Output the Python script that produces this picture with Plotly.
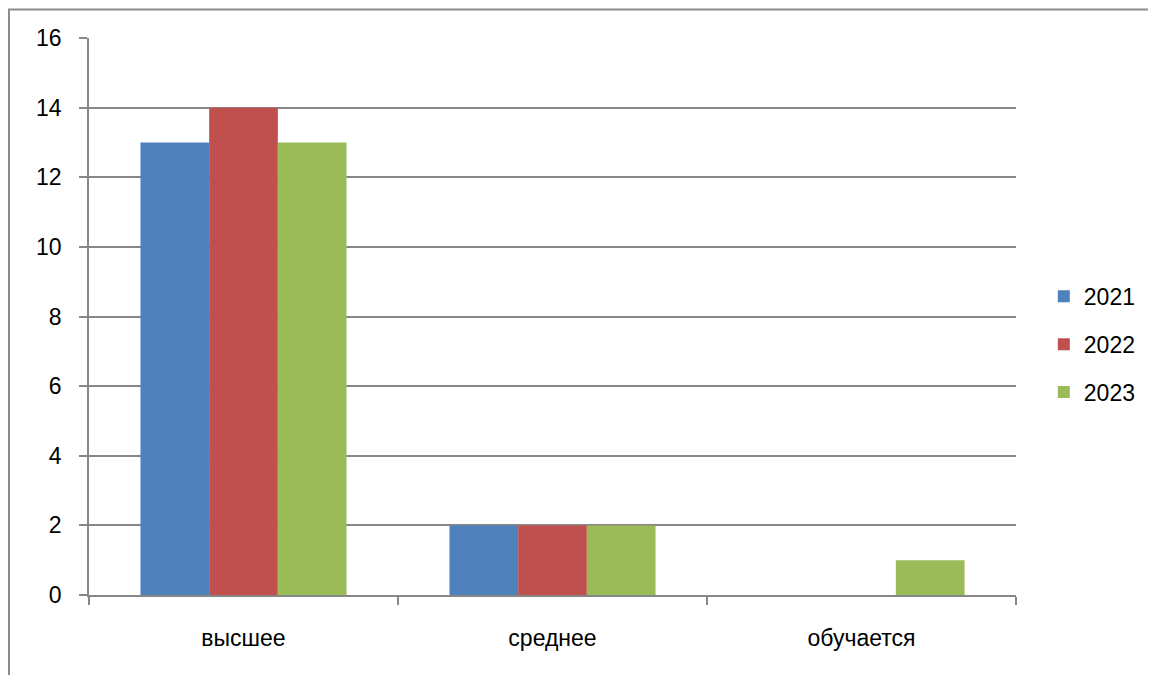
import plotly.graph_objects as go

categories = ["высшее", "среднее", "обучается"]
series_names = ["2021", "2022", "2023"]
values_2021 = [13, 2, 0]
values_2022 = [14, 2, 0]
values_2023 = [13, 2, 1]
colors = ["#4F81BD", "#C0504D", "#9BBB59"]
y_ticks = [0, 2, 4, 6, 8, 10, 12, 14, 16]

W, H = 1156, 675
ml, mt = 81, 30
pw, ph = 927, 557
mr, mb = W - ml - pw, H - mt - ph

fig = go.Figure()
for name, vals, col in zip(series_names, [values_2021, values_2022, values_2023], colors):
    fig.add_trace(go.Bar(x=categories, y=vals, name=name, marker_color=col,
                         marker_line_width=0, legendgroup=name))

font = dict(family="Liberation Sans, Arial, sans-serif", size=23, color="#000000")
grid_col = "#868686"

fig.update_layout(
    width=W, height=H,
    margin=dict(l=ml, r=mr, t=mt, b=mb),
    paper_bgcolor="white", plot_bgcolor="white",
    barmode="group", bargap=0.333, bargroupgap=0,
    font=font,
    showlegend=True,
    legend=dict(x=1.03, xanchor="left", y=0.45, yanchor="middle",
                traceorder="grouped", tracegroupgap=15, font=font,
                bgcolor="rgba(0,0,0,0)"),
    xaxis=dict(type="category", tickson="boundaries", ticks="outside", ticklen=8,
               tickcolor=grid_col, tickwidth=1.5, showgrid=False,
               showline=True, linecolor=grid_col, linewidth=1.5,
               ticklabelstandoff=22, tickfont=font),
    yaxis=dict(range=[0, 16], tickvals=y_ticks, ticks="outside", ticklen=8,
               tickcolor=grid_col, tickwidth=1.5, showgrid=True, gridcolor=grid_col,
               gridwidth=1.5, showline=True, linecolor=grid_col, linewidth=1.5,
               zeroline=False, ticklabelstandoff=13, tickfont=font),
    shapes=[dict(type="rect", xref="paper", yref="paper",
                 x0=(1 - ml) / pw, x1=(W + 40 - ml) / pw,
                 y0=-(H + 40 - mt - ph) / ph, y1=1 + (mt - 1.5) / ph,
                 line=dict(color="#8C8C8C", width=2), fillcolor="rgba(0,0,0,0)",
                 layer="below")],
)

fig.write_html("out.html")
